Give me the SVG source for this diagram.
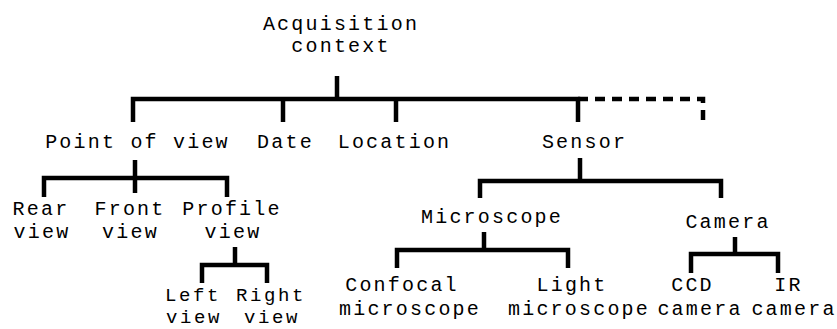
<svg xmlns="http://www.w3.org/2000/svg" width="837" height="329" viewBox="0 0 837 329">
<style>
  text { font-family: "Liberation Mono", "Courier New", monospace; font-size: 20px; letter-spacing: 2.2px; fill: #000; text-anchor: middle; }
  .s { font-size: 19px; letter-spacing: 2.6px; }
  .c { fill: none; stroke: #000; stroke-width: 4.5; stroke-linejoin: miter; stroke-linecap: butt; }
  .d { stroke-dasharray: 10 7; }
</style>
<rect width="837" height="329" fill="#fff"/>
<g id="connectors">
  <path class="c" d="M337 76 V99"/>
  <path class="c" d="M133 122 V99 H578 V122"/>
  <path class="c" d="M283 99 V122"/>
  <path class="c" d="M396 99 V122"/>
  <path class="c d" d="M578 99 H703 V126"/>
  <path class="c" d="M135 160 V193"/>
  <path class="c" d="M44 197 V178 H227 V197"/>
  <path class="c" d="M235 247 V265"/>
  <path class="c" d="M202 283 V265 H267 V283"/>
  <path class="c" d="M580 158 V181"/>
  <path class="c" d="M480 198 V181 H721 V198"/>
  <path class="c" d="M484 232 V250"/>
  <path class="c" d="M397 268 V250 H568 V268"/>
  <path class="c" d="M735 237 V254"/>
  <path class="c" d="M691 273 V254 H778 V273"/>
</g>
<g id="root"><text x="341" y="30">Acquisition</text><text x="341" y="52">context</text></g>
<g id="pov"><text x="137.5" y="148">Point of view</text></g>
<g id="date"><text x="285.5" y="148">Date</text></g>
<g id="location"><text x="394.5" y="148">Location</text></g>
<g id="sensor"><text x="584.5" y="148">Sensor</text></g>
<g id="rear"><text x="41" y="215">Rear</text><text x="42" y="238">view</text></g>
<g id="front"><text x="130" y="215">Front</text><text x="130.5" y="238">view</text></g>
<g id="profile"><text x="232" y="215">Profile</text><text x="233" y="238">view</text></g>
<g id="left"><text class="s" x="193" y="301">Left</text><text class="s" x="194" y="323">view</text></g>
<g id="right"><text class="s" x="271" y="301">Right</text><text class="s" x="272" y="323">view</text></g>
<g id="microscope"><text x="492" y="223">Microscope</text></g>
<g id="camera"><text x="728" y="228">Camera</text></g>
<g id="confocal"><text x="402" y="291">Confocal</text><text x="410" y="315">microscope</text></g>
<g id="light"><text x="572" y="291">Light</text><text x="579" y="315">microscope</text></g>
<g id="ccd"><text x="692.5" y="291">CCD</text><text x="700" y="315">camera</text></g>
<g id="ir"><text x="788.5" y="291">IR</text><text x="794" y="315">camera</text></g>
</svg>
